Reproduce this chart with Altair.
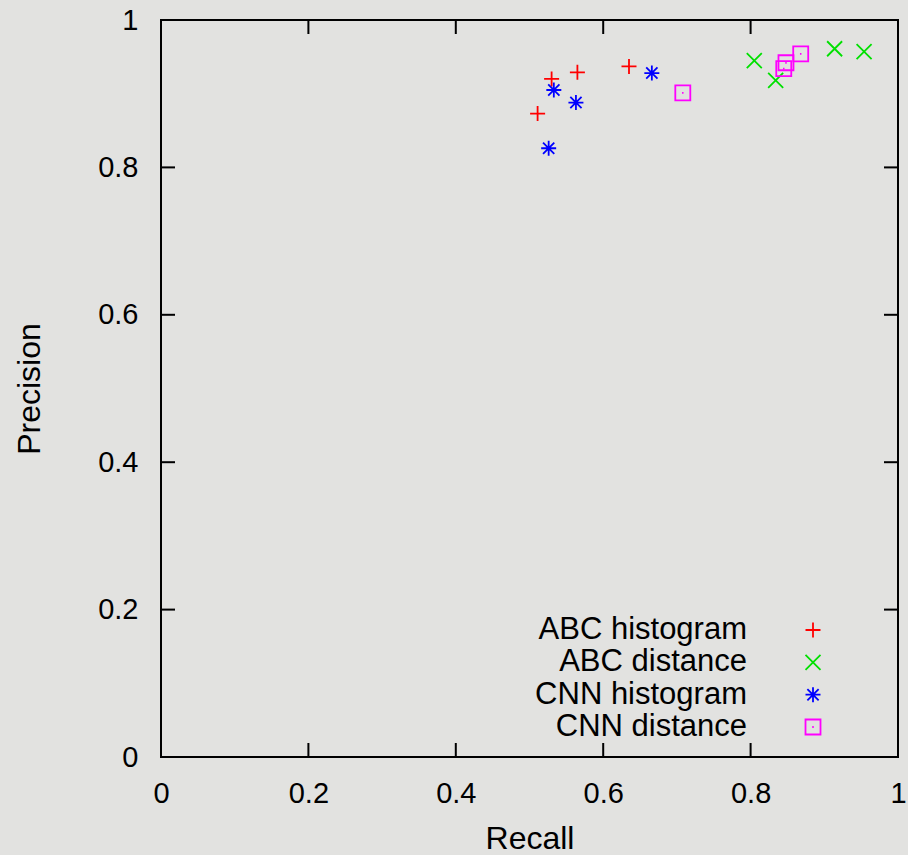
import altair as alt
import pandas as pd

# ---- data ----
series_names = ["ABC histogram", "ABC distance", "CNN histogram", "CNN distance"]
abc_hist_recall = [0.511, 0.530, 0.565, 0.635]
abc_hist_precision = [0.873, 0.920, 0.929, 0.937]
abc_dist_recall = [0.805, 0.834, 0.914, 0.954]
abc_dist_precision = [0.945, 0.918, 0.961, 0.957]
cnn_hist_recall = [0.526, 0.533, 0.563, 0.666]
cnn_hist_precision = [0.826, 0.905, 0.888, 0.928]
cnn_dist_recall = [0.708, 0.845, 0.848, 0.868]
cnn_dist_precision = [0.901, 0.934, 0.942, 0.954]
tick_values = [0, 0.2, 0.4, 0.6, 0.8, 1]

# ---- styling ----
W = H = 737
TICK = 14
FONT = "Liberation Sans"
BG = "#e2e2e0"
colors = ["#ff0000", "#00e000", "#0000ff", "#ff00ff"]
shapes = [
    "M-1,0L1,0M0,-1L0,1",
    "M-1,-1L1,1M-1,1L1,-1",
    "M-1,0L1,0M0,-1L0,1M-0.75,-0.75L0.75,0.75M-0.75,0.75L0.75,-0.75",
    "M-1,-1L1,-1L1,1L-1,1ZM-0.1,0L0.1,0",
]

rows = []
for name, rs, ps in [
    (series_names[0], abc_hist_recall, abc_hist_precision),
    (series_names[1], abc_dist_recall, abc_dist_precision),
    (series_names[2], cnn_hist_recall, cnn_hist_precision),
    (series_names[3], cnn_dist_recall, cnn_dist_precision),
]:
    for r, p in zip(rs, ps):
        rows.append({"series": name, "recall": r, "precision": p})
df = pd.DataFrame(rows)

color_scale = alt.Scale(domain=series_names, range=colors)
shape_scale = alt.Scale(domain=series_names, range=shapes)

points = alt.Chart(df).mark_point(filled=False, strokeWidth=1.8, size=225, opacity=1).encode(
    x=alt.X("recall:Q", scale=alt.Scale(domain=[0, 1], nice=False, zero=False),
            axis=alt.Axis(values=tick_values, format="~g", title="Recall",
                          labelPadding=22, titleY=91, titleBaseline="alphabetic")),
    y=alt.Y("precision:Q", scale=alt.Scale(domain=[0, 1], nice=False, zero=False),
            axis=alt.Axis(values=tick_values, format="~g", title="Precision",
                          labelPadding=23, titleX=-122, titleY=H / 2,
                          titleBaseline="alphabetic")),
    color=alt.Color("series:N", scale=color_scale, legend=None),
    shape=alt.Shape("series:N", scale=shape_scale, legend=None),
)

xt = pd.DataFrame({"recall": tick_values})
yt = pd.DataFrame({"precision": tick_values})
tick_style = dict(color="black", strokeWidth=2)

bottom_ticks = alt.Chart(xt).mark_rule(**tick_style).encode(
    x="recall:Q", y=alt.value(H), y2=alt.value(H - TICK))
top_ticks = alt.Chart(xt).mark_rule(**tick_style).encode(
    x="recall:Q", y=alt.value(0), y2=alt.value(TICK))
left_ticks = alt.Chart(yt).mark_rule(**tick_style).encode(
    y="precision:Q", x=alt.value(0), x2=alt.value(TICK))
right_ticks = alt.Chart(yt).mark_rule(**tick_style).encode(
    y="precision:Q", x=alt.value(W), x2=alt.value(W - TICK))

main = alt.layer(points, bottom_ticks, top_ticks, left_ticks, right_ticks)

# ---- key (text right-aligned, symbol to its right, as gnuplot draws it) ----
leg_df = pd.DataFrame({"series": series_names})
leg_y = alt.Y("series:N", scale=alt.Scale(domain=series_names, range=[610, 707], padding=0), axis=None)

leg_text = alt.Chart(leg_df).mark_text(
    align="right", baseline="middle", fontSize=31, font=FONT, color="black"
).encode(x=alt.value(586), y=leg_y, text="series:N")

leg_sym = alt.Chart(leg_df).mark_point(filled=False, strokeWidth=1.8, size=225, opacity=1).encode(
    x=alt.value(652), y=leg_y,
    color=alt.Color("series:N", scale=color_scale, legend=None),
    shape=alt.Shape("series:N", scale=shape_scale, legend=None),
)

key = alt.layer(leg_text, leg_sym)

chart = alt.layer(main, key).resolve_scale(y="independent").properties(
    width=W, height=H,
    autosize=alt.AutoSizeParams(type="none"),
    padding={"left": 161, "top": 20, "right": 10, "bottom": 98},
).configure(
    background=BG, font=FONT,
).configure_view(
    stroke="black", strokeWidth=2, fill=BG,
).configure_axis(
    grid=False, domain=False, ticks=False,
    labelFont=FONT, labelFontSize=29, labelColor="black",
    titleFont=FONT, titleFontSize=32, titleFontWeight="normal", titleColor="black",
    labelFlush=False, labelOverlap=False, labelBound=False,
)

chart.save("out.html", embed_options={"renderer": "svg", "actions": False})
